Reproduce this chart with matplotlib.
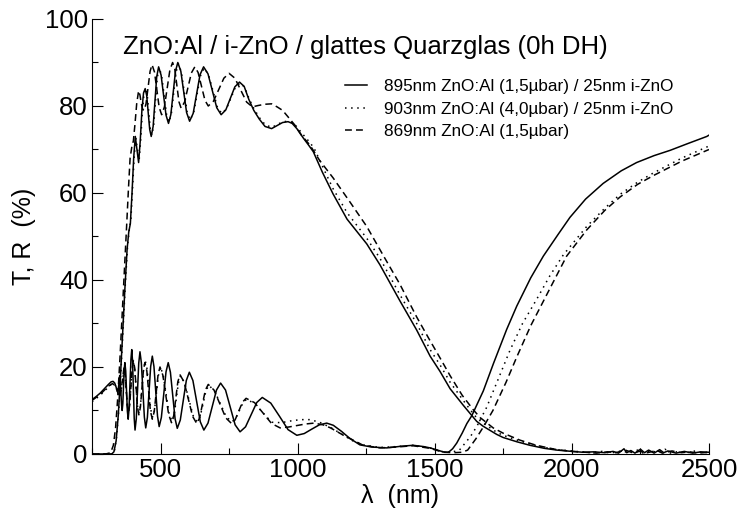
import matplotlib
matplotlib.use('Agg')
import matplotlib.pyplot as plt
from matplotlib.ticker import MultipleLocator

plt.rcParams['font.family'] = ['Liberation Sans', 'DejaVu Sans']

# transmission, 895nm ZnO:Al (1,5ubar) / 25nm i-ZnO  (wavelength nm, %)
t_895 = [(250, 0), (300, 0), (322, 0), (330, 0.5), (338, 3), (346, 9), (354, 18), (362, 28),
         (370, 38), (378, 47), (384, 51), (390, 53), (396, 60), (402, 68), (408, 73), (414, 70),
         (420, 67), (426, 72), (432, 79), (438, 83), (444, 84), (449.5, 82.4), (455, 78.5),
         (460.5, 74.6), (466, 73), (473, 75.3), (479.5, 81), (486, 86.7), (493, 89), (502, 87.1),
         (511, 82.5), (520, 77.9), (529, 76), (537.5, 78), (546, 83), (554.5, 88), (563, 90),
         (574, 88), (584.5, 83.25), (595, 78.5), (606, 76.5), (619, 78.3), (631.5, 82.75),
         (644, 87.2), (657, 89), (673, 87.4), (689, 83.5), (705, 79.6), (721, 78), (738, 79.1),
         (754.5, 81.75), (771, 84.4), (788, 85.5), (805, 84.5), (822, 81.5), (840, 79), (860, 77),
         (881, 75.3), (905, 74.8), (925, 75.5), (945, 76.2), (965, 76.4), (980, 76), (997, 74.8),
         (1010, 73.6), (1021, 72.6), (1040, 71), (1057, 69.5), (1090, 64.8), (1129, 59.8),
         (1180, 54), (1252, 48.3), (1300, 43.5), (1373, 35.2), (1434, 28.5), (1483, 22.5),
         (1519, 19), (1556, 15), (1604, 11.2), (1629, 9.3), (1653, 7.5), (1676, 6.4), (1726, 4.5),
         (1749, 3.8), (1800, 2.8), (1847, 2), (1900, 1.3), (1945, 0.9), (2000, 0.6), (2040, 0.4),
         (2080, 0.5), (2120, 0.3), (2150, 0.6), (2170, 0.2), (2190, 1.2), (2200, 0.3), (2215, 0.8),
         (2230, 0.2), (2250, 1.1), (2265, 0.3), (2280, 0.9), (2300, 0.2), (2320, 1.0), (2335, 0.3),
         (2350, 0.7), (2380, 0.2), (2410, 0.6), (2440, 0.2), (2470, 0.5), (2500, 0.4)]

# transmission, 903nm ZnO:Al (4,0ubar) / 25nm i-ZnO
t_903 = [(250, 0), (300, 0), (324, 0), (332, 0.8), (340, 4), (348, 10.5), (356, 19.5), (364, 29.5),
         (372, 39.5), (380, 48), (386, 51.5), (392, 54), (398, 61), (404, 68.5), (410, 72.5),
         (416, 70), (422, 67.5), (428, 72.5), (434, 79), (440, 83), (446, 84), (451.5, 82.5),
         (457, 78.7), (462.5, 74.8), (468, 73.3), (475, 75.5), (481.5, 81), (488, 86.5), (495, 88.8),
         (504, 87), (513, 82.5), (522, 78), (531, 76.3), (539.5, 78.2), (548, 83), (556.5, 87.8),
         (565, 89.7), (576, 87.8), (586.5, 83.2), (597, 78.6), (608, 76.8), (621, 78.5),
         (633.5, 82.8), (646, 87), (659, 88.7), (675, 87.2), (691, 83.5), (707, 79.8), (723, 78.3),
         (740, 79.3), (756.5, 81.8), (773, 84.3), (790, 85.3), (807, 84.3), (824, 81.5), (842, 79.2),
         (862, 77.2), (883, 75.6), (907, 75.1), (927, 75.8), (947, 76.4), (967, 76.5), (982, 76.1),
         (999, 75.1), (1012, 74), (1023, 73.2), (1042, 71.8), (1060, 70.3), (1093, 65.8),
         (1129, 61), (1180, 55.5), (1252, 49.6), (1300, 45), (1373, 36.6), (1434, 30), (1483, 24),
         (1519, 20.5), (1556, 16.5), (1604, 12.3), (1629, 10.2), (1653, 8.3), (1676, 7.1),
         (1726, 5), (1749, 4.3), (1800, 3.2), (1847, 2.3), (1900, 1.5), (1945, 1), (2000, 0.7),
         (2030, 0.5), (2070, 0.3), (2110, 0.6), (2140, 0.2), (2180, 0.7), (2210, 0.3), (2240, 0.9),
         (2260, 0.2), (2290, 0.8), (2310, 0.3), (2340, 1.1), (2360, 0.2), (2390, 0.6), (2420, 0.3),
         (2450, 0.7), (2480, 0.2), (2500, 0.5)]

# transmission, 869nm ZnO:Al (1,5ubar)
t_869 = [(250, 0), (300, 0), (318, 0.3), (328, 2), (336, 6), (344, 13), (352, 22), (360, 32),
         (368, 42), (376, 52), (383, 61), (389, 68), (395, 70.5), (401, 72), (407, 76), (413, 80.5),
         (420, 83.5), (425, 82.5), (430, 80.5), (435, 79.2), (440, 79), (447, 80.5), (454.5, 84.25),
         (462, 88), (469, 89.5), (478, 87.8), (486.5, 83.75), (495, 79.7), (504, 78), (514, 79.75),
         (524, 84), (534, 88.25), (544, 90), (552, 88.5), (559.5, 84.75), (567, 81), (575, 79.5),
         (587.5, 80.9), (600, 84.25), (612.5, 87.6), (625, 89), (637, 87.7), (649.5, 84.5),
         (662, 81.3), (674, 80), (693, 81.1), (712, 83.75), (731, 86.4), (750, 87.5), (771, 86.4),
         (792.5, 83.65), (814, 80.9), (835, 79.8), (855, 80.1), (880, 80.4), (905, 80.5),
         (925, 79.8), (945, 79), (961, 77.8), (990, 75.6), (1015, 73.2), (1045, 71), (1080, 67.5),
         (1129, 63.5), (1190, 58), (1252, 52.3), (1318, 45), (1373, 39), (1434, 31.5), (1476, 26.8),
         (1520, 22), (1556, 18), (1600, 13.5), (1640, 10.2), (1665, 8.4), (1713, 6), (1749, 4.8),
         (1810, 3.2), (1870, 2), (1945, 1), (2000, 0.6), (2050, 0.4), (2090, 0.2), (2130, 0.5),
         (2160, 0.3), (2195, 0.9), (2225, 0.2), (2245, 0.6), (2275, 0.3), (2310, 0.8), (2330, 0.2),
         (2365, 0.7), (2400, 0.3), (2430, 0.5), (2460, 0.2), (2500, 0.4)]

# reflection curves
r_895 = [(250, 12.5), (265, 13.2), (280, 14), (295, 15), (310, 16), (320, 16.6), (327, 16.7),
         (333, 16.3), (340, 15), (345, 14.5), (348, 16), (351, 18), (353, 16.8), (355.5, 14),
         (358, 11.2), (360, 10), (362.5, 11.6), (365, 15.5), (367.5, 19.4), (370, 21), (373, 19.1),
         (376, 14.5), (379, 9.9), (382, 8), (385, 10.3), (388.5, 16), (392, 21.7), (395, 24),
         (398, 21.3), (401, 14.75), (404, 8.2), (407, 5.5), (411.5, 8.1), (416, 14.5), (420.5, 20.9),
         (425, 23.5), (430, 21), (435.5, 14.75), (441, 8.5), (446, 6), (452, 8.4), (458, 14.25),
         (464, 20.1), (470, 22.5), (476, 20.1), (482.5, 14.4), (489, 8.7), (495, 6.3), (503, 8.4),
         (511.5, 13.65), (520, 18.9), (528, 21), (536, 18.8), (544.5, 13.45), (553, 8.1),
         (561, 5.9), (572, 7.8), (583, 12.35), (594, 16.9), (605, 18.8), (618, 16.9),
         (631.5, 12.15), (645, 7.4), (658, 5.5), (673, 7.1), (688.5, 10.9), (704, 14.7),
         (719, 16.3), (737, 14.7), (754.5, 10.7), (772, 6.7), (790, 5.1), (810, 6.25),
         (830.5, 9.05), (851, 11.85), (871, 13), (902, 11.7), (934, 8.65), (965, 5.6), (997, 4.3),
         (1024, 4.7), (1051, 5.7), (1079, 6.7), (1106, 7.1), (1130, 6.6), (1160, 5.2), (1190, 3.6),
         (1227, 2.1), (1270, 1.6), (1325, 1.4), (1380, 1.8), (1421, 2), (1460, 1.7), (1483, 1.4),
         (1510, 0.9), (1530, 0.5), (1550, 0.4), (1565, 1.2), (1580, 2.5), (1600, 4.8), (1617, 7),
         (1635, 8.8), (1677, 14.5), (1714, 20.8), (1762, 28.6), (1799, 34), (1850, 40.5),
         (1896, 45.5), (1950, 50.5), (1993, 54.4), (2050, 58.6), (2114, 62.2), (2180, 65.1),
         (2236, 67), (2300, 68.6), (2358, 69.8), (2420, 71.3), (2492, 73), (2500, 73.3)]

r_903 = [(250, 12.0), (280, 13.5), (310, 15.4), (325, 16.3), (335, 15.8), (342, 14.5), (350, 13.5),
         (356, 14.5), (361, 16.5), (367, 19.5), (371, 18), (375, 14.5), (379, 11), (383, 10),
         (387.5, 11.5), (392, 15.5), (396.5, 19.5), (401, 21), (406, 19.3), (411, 15), (416, 11),
         (421, 9.5), (426.5, 11), (432, 15), (437.5, 19), (444, 21.5), (451, 19.5), (458, 14.5),
         (464, 10.3), (471, 8.5), (478, 10), (485, 14), (492, 18), (500, 20), (510, 18), (521, 13.5),
         (531, 9.3), (542, 7.5), (550, 9), (557.5, 12.7), (565, 16.3), (573, 18), (588, 16.3),
         (603.5, 12.5), (619, 8.8), (634, 7.4), (644.5, 8.6), (655, 11.5), (665.5, 14.5),
         (676, 15.8), (697, 14.5), (718.5, 11.5), (740, 8.5), (761, 7.4), (774, 8.2), (787.5, 10),
         (801, 11.8), (814, 12.6), (845, 11.5), (876, 9.3), (905, 7.3), (940, 7.2), (975, 7.6),
         (1009, 7.9), (1045, 7.9), (1080, 7.3), (1120, 6.1), (1160, 4.6), (1202, 3), (1239, 2.1),
         (1300, 1.5), (1360, 1.7), (1421, 2), (1483, 1.4), (1530, 0.5), (1560, 0.4), (1590, 0.9),
         (1630, 4), (1653, 6.3), (1689, 10.7), (1730, 17), (1774, 23.8), (1820, 30), (1871, 35.5),
         (1920, 41), (1969, 45.8), (2054, 52.3), (2120, 56.5), (2176, 59.7), (2240, 62.5),
         (2297, 64.6), (2400, 68), (2500, 70.8)]

r_869 = [(250, 12.3), (280, 13.7), (310, 15.6), (325, 16.2), (335, 15.6), (342, 14.5), (350, 13),
         (356, 14.5), (361, 17), (367, 20), (371, 18.5), (375, 14.75), (379, 11), (383, 9.5),
         (387.5, 11.25), (392, 15.5), (396.5, 19.75), (401, 21.5), (406, 19.7), (411, 15.25),
         (416, 10.8), (421, 9), (426.5, 10.75), (432, 15), (437.5, 19.25), (443, 21), (450, 19.1),
         (456.5, 14.5), (463, 9.9), (470, 8), (477, 9.75), (484, 14), (491, 18.25), (498, 20),
         (508.5, 18.1), (519, 13.6), (529.5, 9.1), (540, 7.2), (548, 8.8), (555.5, 12.7),
         (563, 16.6), (571, 18.2), (586, 16.55), (601.5, 12.6), (617, 8.65), (632, 7),
         (642.5, 8.3), (653, 11.5), (663.5, 14.7), (674, 16), (695, 14.7), (716.5, 11.5),
         (738, 8.3), (759, 7), (772, 7.85), (785.5, 9.9), (799, 11.95), (812, 12.8), (843, 11.8),
         (874, 9.4), (905, 7), (936, 6), (967, 6.2), (998, 6.55), (1029, 6.9), (1060, 7.1),
         (1093, 6.7), (1120, 6), (1142, 5.2), (1170, 4.2), (1202, 3.2), (1239, 2), (1300, 1.4),
         (1360, 1.6), (1421, 1.9), (1483, 1.3), (1530, 0.4), (1570, 0.3), (1600, 0.4), (1620, 0.9),
         (1650, 3.5), (1680, 6.5), (1712, 10), (1760, 16.5), (1799, 22.3), (1850, 29.5),
         (1895, 35), (1940, 40.5), (1981, 45.5), (2054, 51.5), (2120, 56), (2176, 59.1),
         (2240, 62), (2297, 64), (2400, 67.3), (2500, 70)]

labels = ['895nm ZnO:Al (1,5µbar) / 25nm i-ZnO',
          '903nm ZnO:Al (4,0µbar) / 25nm i-ZnO',
          '869nm ZnO:Al (1,5µbar)']
title = 'ZnO:Al / i-ZnO / glattes Quarzglas (0h DH)'

SOLID = '-'
DOTTED = (0, (1, 3))
DASHED = (0, (4.5, 2.7))


def draw(ax, pairs, style, label=None):
    xs = [p[0] for p in pairs]
    ys = [p[1] for p in pairs]
    ax.plot(xs, ys, color='black', lw=1.1, linestyle=style, label=label)


fig = plt.figure(figsize=(7.4, 5.08), dpi=100)
ax = fig.add_axes([0.1243, 0.1063, 0.8338, 0.8563])

draw(ax, t_895, SOLID, labels[0])
draw(ax, t_903, DOTTED, labels[1])
draw(ax, t_869, DASHED, labels[2])
draw(ax, r_895, SOLID)
draw(ax, r_903, DOTTED)
draw(ax, r_869, DASHED)

ax.set_xlim(250, 2500)
ax.set_ylim(0, 100)
ax.xaxis.set_major_locator(MultipleLocator(500))
ax.xaxis.set_minor_locator(MultipleLocator(250))
ax.yaxis.set_major_locator(MultipleLocator(20))
ax.yaxis.set_minor_locator(MultipleLocator(10))
ax.tick_params(which='both', direction='in', top=False, right=False, width=0.8,
               labelsize=18.5, pad=3)
ax.tick_params(which='major', length=8)
ax.tick_params(which='minor', length=4.5)
for side in ['top', 'right']:
    ax.spines[side].set_visible(False)
for side in ['left', 'bottom']:
    ax.spines[side].set_linewidth(0.8)

ax.set_xlabel('λ  (nm)', fontsize=18, labelpad=1)
ax.set_ylabel('T, R  (%)', fontsize=18, labelpad=6)

ax.text(0.05, 0.9356, title, transform=ax.transAxes, fontsize=18.5, ha='left', va='center')

ax.legend(loc='upper left', bbox_to_anchor=(0.41, 0.862), frameon=False, fontsize=12.3,
          handlelength=1.3, handletextpad=1.0, labelspacing=0.45, borderpad=0,
          borderaxespad=0)

fig.savefig('out.png', dpi=100)
